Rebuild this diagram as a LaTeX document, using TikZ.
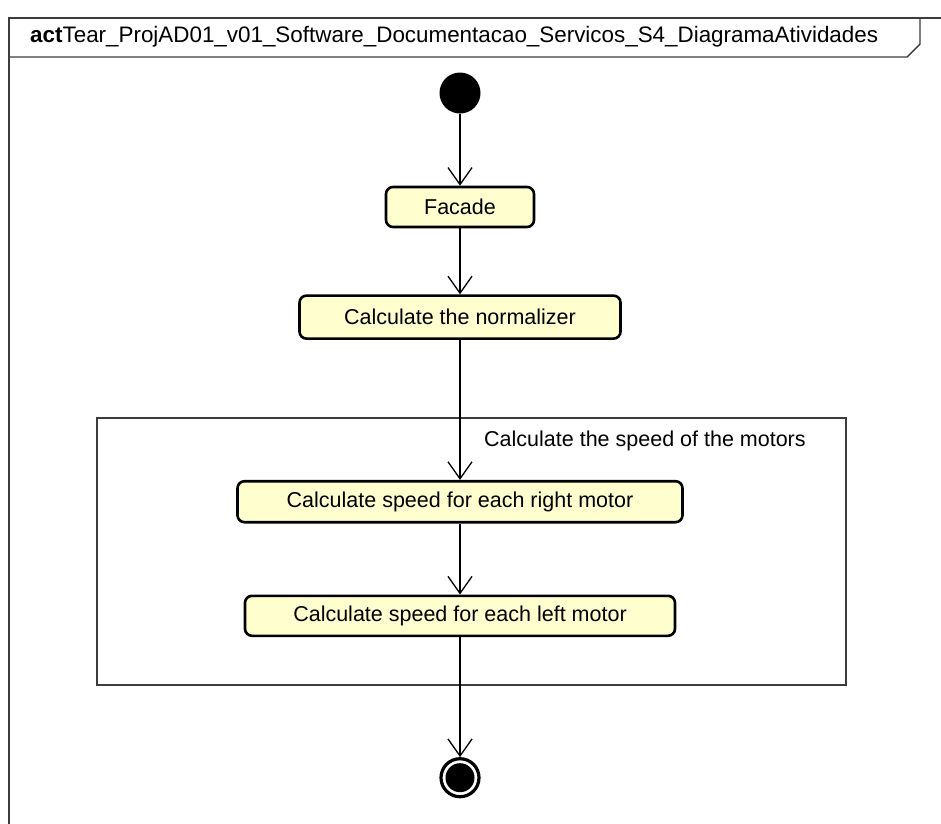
\documentclass[tikz,border=0pt]{standalone}
\usepackage{fontspec}
\setmainfont{Liberation Sans}
\usetikzlibrary{positioning,arrows.meta}
\definecolor{actfill}{HTML}{FEFECE}
\definecolor{framegray}{HTML}{3C3C3C}

\begin{document}
\begin{tikzpicture}[
    x=1pt, y=1pt,
    action/.style={
        draw,
        line width=2.6pt,
        rounded corners=7pt,
        fill=actfill,
        minimum height=40pt,
        inner sep=0pt,
        font=\fontsize{21.5}{25}\selectfont
    },
    start/.style={circle, fill=black, minimum size=41pt, inner sep=0pt},
    stop/.style={
        circle, draw, line width=3.2pt, fill=white,
        minimum size=38pt, inner sep=0pt,
        path picture={\fill[black] (path picture bounding box.center) circle (14.5pt);}
    },
    flow/.style={-{Straight Barb[length=17pt,width=24pt]}, line width=1.3pt},
    frame/.style={draw=framegray, line width=1.4pt}
]
\useasboundingbox (0,0) rectangle (941,-823);

% frame and its header tab
\draw[frame] (9,-840) -- (9,-18) -- (960,-18);
\draw[frame] (9,-57) -- (907,-57) -- (920,-44) -- (920,-18);
\node[anchor=west, inner sep=0pt, font=\fontsize{22.4}{26}\selectfont] (title) at (30,-37)
    {\textbf{act}Tear\_ProjAD01\_v01\_Software\_Documentacao\_Servicos\_S4\_DiagramaAtividades};

% partition for the motor speeds
\draw[frame] (97,-418) rectangle (846,-685);
\node[anchor=west, inner sep=0pt, font=\fontsize{21.5}{25}\selectfont] (grouplabel) at (484,-441)
    {Calculate the speed of the motors};

\node[start] (init) at (460,-93) {};
\node[action, minimum width=148pt, below=72pt of init] (facade) {Facade};
\node[action, minimum width=321pt, minimum height=43pt, below=66pt of facade] (norm) {Calculate the normalizer};
\node[action, minimum width=445pt, minimum height=41pt, below=140pt of norm] (right) {Calculate speed for each right motor};
\node[action, minimum width=430pt, below=71pt of right] (left) {Calculate speed for each left motor};
\node[stop, below=120pt of left] (final) {};

\draw[flow] (init) -- (facade);
\draw[flow] (facade) -- (norm);
\draw[flow] (norm) -- (right);
\draw[flow] (right) -- (left);
\draw[flow] (left) -- (final);

\end{tikzpicture}
\end{document}
